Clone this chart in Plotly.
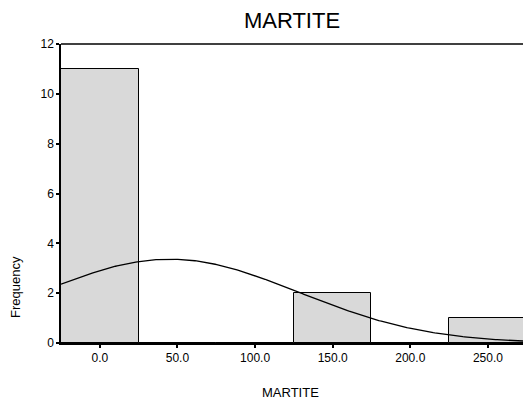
import numpy as np
import plotly.graph_objects as go

# Histogram data (bin centers, counts)
bin_centers = [0, 50, 100, 150, 200, 250]
counts = [11, 0, 0, 2, 0, 1]
bin_width = 50
x_tick_vals = [0, 50, 100, 150, 200, 250]
x_tick_text = ["0.0", "50.0", "100.0", "150.0", "200.0", "250.0"]
y_tick_vals = [0, 2, 4, 6, 8, 10, 12]

# Normal curve parameters
n_total = 14
mean_est = 45.0
sd_est = 83.0

xs = np.linspace(-25, 275, 300)
ys = n_total * bin_width * np.exp(-0.5 * ((xs - mean_est) / sd_est) ** 2) / (sd_est * np.sqrt(2 * np.pi))

FONT = "Liberation Sans, Arial, sans-serif"

fig = go.Figure()
fig.add_trace(go.Bar(
    x=bin_centers, y=counts, width=[bin_width] * len(bin_centers),
    marker=dict(color="#d9d9d9", line=dict(color="black", width=1)),
    hoverinfo="skip",
))
fig.add_trace(go.Scatter(
    x=xs, y=ys, mode="lines", line=dict(color="black", width=1.3),
    hoverinfo="skip",
))

fig.update_layout(
    width=523, height=403,
    margin=dict(l=61, r=0, t=44, b=60),
    paper_bgcolor="white", plot_bgcolor="white",
    showlegend=False,
    bargap=0,
    title=dict(text="MARTITE", x=292 / 523, xanchor="center", y=1 - 20 / 403, yanchor="middle",
               font=dict(family=FONT, size=22, color="black")),
    font=dict(family=FONT, color="black"),
    xaxis=dict(range=[-25, 272.6], tickvals=x_tick_vals, ticktext=x_tick_text,
               showgrid=False, zeroline=False, showline=True, linecolor="black", linewidth=1.5,
               ticks="outside", ticklen=3, tickwidth=2, tickcolor="black",
               tickfont=dict(family=FONT, size=12, color="black")),
    yaxis=dict(range=[0, 12], tickvals=y_tick_vals,
               showgrid=False, zeroline=False, showline=True, linecolor="black", linewidth=1.5,
               ticks="outside", ticklen=3, tickwidth=2, tickcolor="black",
               tickfont=dict(family=FONT, size=12, color="black")),
    shapes=[dict(type="line", xref="paper", yref="paper", x0=0, x1=1, y0=1, y1=1,
                 line=dict(color="black", width=1.5))],
    annotations=[
        dict(text="Frequency", xref="paper", yref="paper", x=(15 - 61) / 462, y=(343 - 287) / 299,
             xanchor="center", yanchor="middle", textangle=-90, showarrow=False,
             font=dict(family=FONT, size=13, color="black")),
        dict(text="MARTITE", xref="paper", yref="paper", x=(290 - 61) / 462, y=(343 - 392) / 299,
             xanchor="center", yanchor="middle", showarrow=False,
             font=dict(family=FONT, size=13, color="black")),
    ],
)

fig.write_html("out.html")
